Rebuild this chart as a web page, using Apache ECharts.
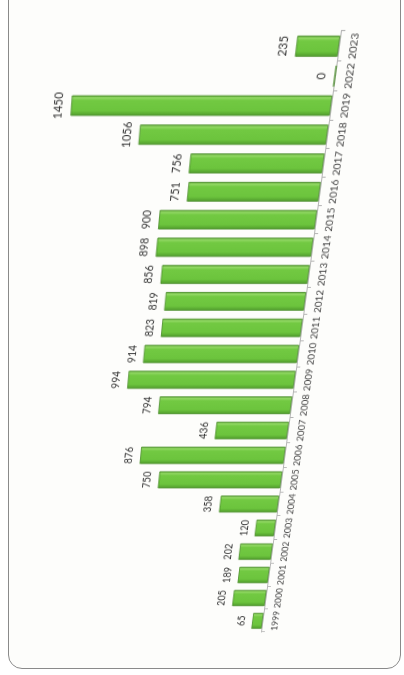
<!DOCTYPE html>
<html>
<head>
<meta charset="utf-8">
<script src="https://cdn.jsdelivr.net/npm/echarts@6/dist/echarts.min.js"></script>
<style>
html,body{margin:0;padding:0;background:#fff;width:404px;height:675px;overflow:hidden;}
#frame{position:absolute;left:8px;top:-30px;width:393px;height:699px;border:1.5px solid #8a8a8a;border-radius:14px;box-sizing:border-box;background:#fdfdfb;}
#chart{position:absolute;width:640px;height:330px;left:-157px;top:189px;
 transform:perspective(1000px) rotateX(-14deg) skewX(-5.5deg) rotate(-90deg);transform-origin:50% 50%;}
</style>
</head>
<body>
<div id="frame"></div>
<div id="chart"></div>
<script>
const years = ['1999','2000','2001','2002','2003','2004','2005','2006','2007','2008','2009','2010','2011','2012','2013','2014','2015','2016','2017','2018','2019','2022','2023'];
const values = [65,205,189,202,120,358,750,876,436,794,994,914,823,819,856,898,900,751,756,1056,1450,0,235];

const chart = echarts.init(document.getElementById('chart'), null, {renderer:'canvas'});
chart.setOption({
  animation:false,
  grid:{left:12,right:12,top:30,bottom:30},
  xAxis:{
    type:'category', data:years,
    axisLine:{lineStyle:{color:'#b5b5b5',width:1}},
    axisTick:{show:true,length:4,lineStyle:{color:'#b5b5b5'}},
    axisLabel:{interval:0,fontSize:10,color:'#444',fontFamily:'Lato',margin:9}
  },
  yAxis:{type:'value',min:0,max:1600,show:false,splitLine:{show:false}},
  series:[{
    type:'bar', data:values, barWidth:'70%',
    itemStyle:{
      color:new echarts.graphic.LinearGradient(0,0,1,0,[
        {offset:0,color:'#4f9a2c'},
        {offset:0.25,color:'#6cc43d'},
        {offset:0.75,color:'#72c942'},
        {offset:0.88,color:'#92d864'},
        {offset:1,color:'#5aa532'}
      ]),
      borderColor:'#468a26',borderWidth:0.8
    },
    label:{show:true,position:'top',fontSize:10.5,color:'#333',fontFamily:'Lato',distance:6}
  }]
});
</script>
</body>
</html>
